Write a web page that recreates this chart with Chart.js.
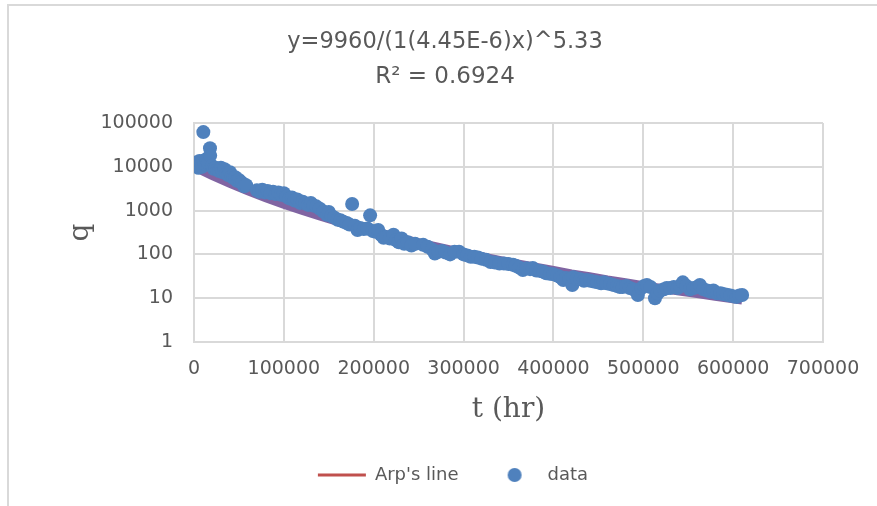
<!DOCTYPE html>
<html>
<head>
<meta charset="utf-8">
<script src="https://cdn.jsdelivr.net/npm/chart.js@4.4.0/dist/chart.umd.min.js"></script>
<style>
  html, body { margin: 0; padding: 0; background: #fff; overflow: hidden; }
  #wrap { position: relative; width: 877px; height: 506px; }
  #frame { position: absolute; left: 7px; top: 4px; width: 900px; height: 520px;
           border-left: 2px solid #d9d9d9; border-top: 2px solid #d9d9d9; pointer-events: none; }
  canvas { position: absolute; left: 0; top: 0; }
</style>
</head>
<body>
<div id="wrap">
  <canvas id="arps" width="877" height="506"></canvas>
  <div id="frame"></div>
</div>
<script>
// measured points, t (hr) and q
const tData = [
  2000, 4000, 5000, 6000, 8000, 9000, 10400, 11000, 12000, 14000, 16000, 17800, 18000,
  20000, 22000, 24000, 26000, 28000, 30000, 32000, 34000, 36000, 38000, 40000, 42000,
  44000, 46000, 48000, 50000, 52000, 54000, 56000, 58000,
  70000, 73000, 76000, 79000, 82000, 85000, 88000, 91000, 94000, 97000, 100000, 103000,
  106000, 109000, 112000, 115000, 118000, 121000, 124000, 127000, 130000, 133000, 136000,
  140000, 144000, 148000, 150000, 153000, 156000, 160000, 163000, 166000, 170000, 173000,
  176000, 179000, 182000, 185000, 189000, 193000, 196000, 199000, 202000, 205000, 208000,
  211000, 214000, 218000, 222000, 225000, 228000, 231000, 234000, 238000, 242000, 246000,
  255000, 260000, 265000, 268000, 272000, 276000, 280000, 285000, 290000, 295000, 300000,
  304000, 308000, 312000, 316000, 320000, 325000, 330000, 335000, 340000, 345000, 350000, 355000,
  358000, 362000, 366000, 370000, 374000, 377000, 381000, 385000, 389000, 392000, 396000,
  400000, 404000, 408000, 411000, 414000, 418000, 421000, 422000, 426000, 430000, 434000,
  437000, 441000, 445000, 449000, 453000, 456000, 459000, 463000, 467000, 471000, 474000,
  477000, 481000, 485000, 489000, 494000, 498000, 501000, 504000, 508000, 513000, 516000,
  519000, 523000, 526000, 530000, 534000, 538000, 541000, 544000, 548000, 552000, 556000,
  560000, 563000, 567000, 571000, 575000, 578000, 582000, 586000, 589000, 593000, 597000,
  601000, 604000, 607000, 610000
];
const qData = [
  12500, 11000, 9500, 13500, 12000, 10000, 62000, 14000, 11500, 15000, 12000, 26500, 18000,
  10500, 9000, 9500, 8500, 8000, 9500, 7500, 8800, 7000, 6500, 7500, 6000,
  5500, 5800, 4800, 5000, 4500, 4200, 3600, 3800,
  2900, 2700, 3000, 2600, 2800, 2500, 2700, 2400, 2600, 2300, 2500, 2100,
  1900, 2000, 1700, 1800, 1500, 1600, 1450, 1350, 1500, 1300, 1250,
  1100, 950, 800, 930, 750, 700, 620, 600, 560, 520, 480,
  1420, 450, 360, 400, 380, 390, 780, 340, 330, 360, 280,
  240, 250, 230, 280, 210, 190, 230, 175, 190, 160, 175,
  165, 150, 130, 105, 115, 120, 110, 100, 115, 115, 100,
  95, 88, 88, 85, 80, 75, 67, 65, 62, 62, 60, 58,
  55, 50, 44, 48, 46, 49, 43, 42, 40, 37, 36,
  35, 33, 30, 26, 29, 27, 20, 30, 28, 27, 25,
  26, 25, 24, 23, 22, 23, 22, 21, 20, 19, 18,
  18, 19, 17, 16, 11.8, 17, 19, 20, 18, 10, 13,
  15, 16, 17, 17, 18, 17, 19, 23, 19, 16, 17,
  18, 20, 16, 15, 14, 15, 13, 13, 12.5, 12, 11.5,
  11, 10.7, 11.5, 11.8
];

// Arp's line
const tLine = [0, 20000, 40000, 60000, 80000, 100000, 120000, 140000, 160000, 180000, 200000,
  220000, 240000, 260000, 280000, 300000, 320000, 340000, 360000, 380000, 400000,
  420000, 440000, 460000, 480000, 500000, 520000, 540000, 560000, 580000, 600000, 610000];
const qLine = [9960, 6320, 4160, 2820, 1965, 1400, 1018, 754, 567, 433, 335,
  262, 207, 166, 133, 108, 89, 73, 61, 51, 43,
  36, 31, 26, 22.5, 19.4, 16.8, 14.6, 12.7, 11.1, 9.7, 9.1];

const xTicks = [0, 100000, 200000, 300000, 400000, 500000, 600000, 700000];
const yTicks = [1, 10, 100, 1000, 10000, 100000];

const titleText = "y=9960/(1(4.45E-6)x)^5.33";
const subtitleText = "R\u00B2 = 0.6924";

const gray = "#595959";
const gridColor = "#d9d9d9";
const sans = "'DejaVu Sans', sans-serif";
const serif = "'DejaVu Serif', serif";

// little round marker for the legend
const dot = document.createElement("canvas");
dot.width = 16;
dot.height = 16;
const dctx = dot.getContext("2d");
dctx.fillStyle = "#4F81BD";
dctx.beginPath();
dctx.arc(8, 8, 7, 0, Math.PI * 2);
dctx.fill();

const dataPoints = tData.map((t, i) => ({ x: t, y: qData[i] }));
const linePoints = tLine.map((t, i) => ({ x: t, y: qLine[i] }));

// legend sits a bit right of the title in the original
const legendNudge = {
  id: "legendNudge",
  afterLayout(chart) {
    chart.legend.left += 8;
    chart.legend.right += 8;
  }
};

Chart.defaults.color = gray;
Chart.defaults.font.family = sans;

new Chart(document.getElementById("arps"), {
  type: "scatter",
  data: {
    datasets: [
      {
        label: "Arp's line",
        data: linePoints,
        showLine: true,
        borderColor: "#8064A2",
        backgroundColor: "#8064A2",
        borderWidth: 9,
        pointRadius: 0,
        tension: 0,
        order: 2
      },
      {
        label: "data",
        data: dataPoints,
        backgroundColor: "#4F81BD",
        borderWidth: 0,
        pointRadius: 7,
        order: 1
      }
    ]
  },
  plugins: [legendNudge],
  options: {
    responsive: false,
    animation: false,
    devicePixelRatio: 1,
    layout: { padding: { top: 0, left: 67, right: 54, bottom: 12 } },
    plugins: {
      tooltip: { enabled: false },
      title: {
        display: true,
        text: titleText,
        color: gray,
        font: { family: sans, size: 22.5, weight: "normal" },
        padding: { top: 29, bottom: 0 }
      },
      subtitle: {
        display: true,
        text: subtitleText,
        color: gray,
        font: { family: sans, size: 23, weight: "normal" },
        padding: { top: 7.2, bottom: 32.2 }
      },
      legend: {
        position: "bottom",
        labels: {
          usePointStyle: true,
          pointStyleWidth: 48,
          padding: 32,
          color: gray,
          font: { family: sans, size: 18 },
          generateLabels: () => [
            { text: "Arp's line", pointStyle: "line", strokeStyle: "#C0504D", fillStyle: "#C0504D",
              lineWidth: 3, datasetIndex: 0, fontColor: gray },
            { text: "data", pointStyle: dot, strokeStyle: "#4F81BD", fillStyle: "#4F81BD",
              lineWidth: 0, datasetIndex: 1, fontColor: gray }
          ]
        }
      }
    },
    scales: {
      x: {
        type: "linear",
        min: 0,
        max: 700000,
        afterBuildTicks: s => { s.ticks = xTicks.map(v => ({ value: v })); },
        afterFit: s => { s.height = 92; },
        ticks: {
          color: gray,
          font: { family: sans, size: 19 },
          padding: 16,
          maxRotation: 0,
          callback: v => String(v)
        },
        grid: { color: gridColor, lineWidth: 2, drawTicks: false },
        border: { color: gridColor, width: 2 },
        title: {
          display: true,
          text: "t (hr)",
          color: gray,
          font: { family: serif, size: 28 },
          padding: { top: 0, bottom: 7.2 }
        }
      },
      y: {
        type: "logarithmic",
        min: 1,
        max: 100000,
        afterBuildTicks: s => { s.ticks = yTicks.map(v => ({ value: v })); },
        afterFit: s => { s.width = 127; },
        ticks: {
          color: gray,
          font: { family: sans, size: 19 },
          padding: 21,
          callback: v => String(v)
        },
        grid: { color: gridColor, lineWidth: 2, drawTicks: false },
        border: { color: gridColor, width: 2 },
        title: {
          display: true,
          text: "q",
          color: gray,
          font: { family: serif, size: 28, lineHeight: 1 },
          padding: { top: 0, bottom: 0 }
        }
      }
    }
  }
});
</script>
</body>
</html>
